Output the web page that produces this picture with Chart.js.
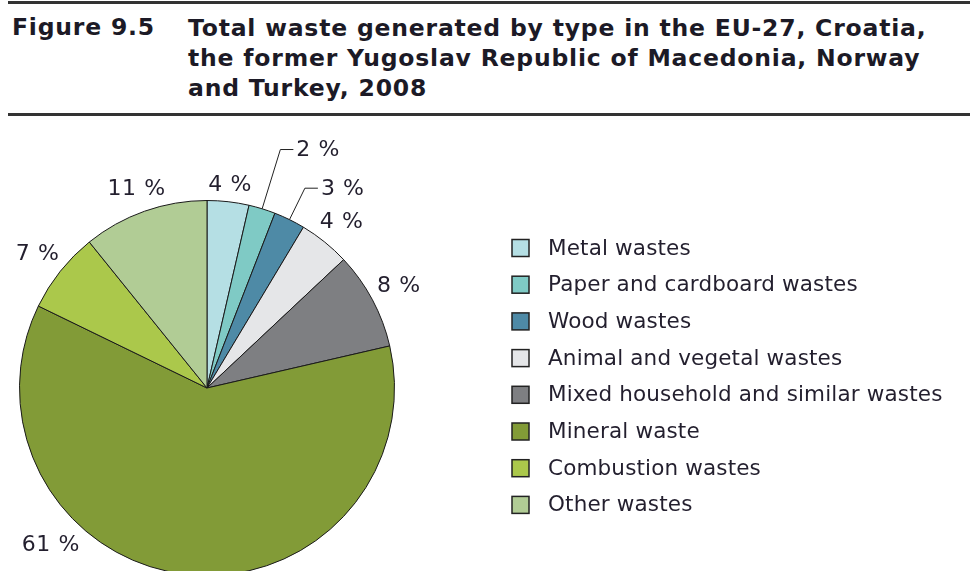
<!DOCTYPE html>
<html>
<head>
<meta charset="utf-8">
<script src="https://cdn.jsdelivr.net/npm/chart.js@4.4.1/dist/chart.umd.min.js"></script>
<style>
  html, body { margin: 0; padding: 0; background: #fff; width: 970px; height: 571px; overflow: hidden; }
  .rule { position: absolute; left: 8px; right: 0; height: 3px; background: #333; }
  .title { position: absolute; left: 0; top: 0; font-family: "DejaVu Sans", Verdana, sans-serif; font-weight: bold; font-size: 23.5px; letter-spacing: 0.8px; color: #1c1a26; }
  .fig { position: absolute; left: 12px; top: 13px; white-space: nowrap; }
  .txt { position: absolute; left: 188px; top: 13px; line-height: 30px; white-space: nowrap; }
  #wrap { position: absolute; left: 0; top: 120px; width: 970px; height: 470px; }
</style>
</head>
<body>
<div class="rule" style="top:1px"></div>
<div class="title">
  <div class="fig">Figure 9.5</div>
  <div class="txt">Total waste generated by type in the EU-27, Croatia,<br>the former Yugoslav Republic of Macedonia, Norway<br>and Turkey, 2008</div>
</div>
<div class="rule" style="top:113px"></div>
<div id="wrap"><canvas id="pie" width="970" height="470"></canvas></div>
<script>
// waste types, share of total (%), 2008
const categories = [
  'Metal wastes',
  'Paper and cardboard wastes',
  'Wood wastes',
  'Animal and vegetal wastes',
  'Mixed household and similar wastes',
  'Mineral waste',
  'Combustion wastes',
  'Other wastes'
]
const shares = [3.6, 2.3, 2.7, 4.4, 8.4, 60.8, 7.0, 10.8]
const sliceColors = ['#b5dfe4', '#7fcac5', '#4e8aa6', '#e5e6e8', '#7e7f82', '#829b37', '#abc84b', '#b1cc95']

const textColor = '#231f2e'
const font = '22px "DejaVu Sans", Verdana, sans-serif'

// percentage labels around the pie, small slices get a leader line
const sliceLabels = {
  id: 'sliceLabels',
  afterDatasetsDraw (chart, args, opts) {
    const ctx = chart.ctx
    ctx.save()
    ctx.font = font
    ctx.letterSpacing = '0.6px'
    ctx.fillStyle = textColor
    ctx.strokeStyle = '#222'
    ctx.lineWidth = 1
    chart.getDatasetMeta(0).data.forEach((arc, i) => {
      const { x, y, startAngle, endAngle, outerRadius } = arc.getProps(['x', 'y', 'startAngle', 'endAngle', 'outerRadius'])
      const text = Math.round(shares[i]) + ' %'
      let mid = (startAngle + endAngle) / 2
      if (opts.angles[i] !== undefined) mid = (opts.angles[i] - 90) * Math.PI / 180
      const cos = Math.cos(mid)
      const sin = Math.sin(mid)
      if (opts.leaders[i] !== undefined) {
        const sx = x + cos * outerRadius
        const sy = y + sin * outerRadius
        const ex = x + cos * (outerRadius + opts.leaders[i])
        const ey = y + sin * (outerRadius + opts.leaders[i])
        ctx.beginPath()
        ctx.moveTo(sx, sy)
        ctx.lineTo(ex, ey)
        ctx.lineTo(ex + 13, ey)
        ctx.stroke()
        ctx.textAlign = 'left'
        ctx.textBaseline = 'middle'
        ctx.fillText(text, ex + 16, ey + 1)
        return
      }
      const w = ctx.measureText(text).width
      const h = 16
      const d = outerRadius + opts.gap + Math.abs(cos) * w / 2 + Math.abs(sin) * h / 2
      ctx.textAlign = 'center'
      ctx.textBaseline = 'middle'
      ctx.fillText(text, x + cos * d, y + sin * d + 1)
    })
    ctx.restore()
  }
}

// legend on the right, one row per category
const sideLegend = {
  id: 'sideLegend',
  afterDraw (chart, args, opts) {
    const ctx = chart.ctx
    ctx.save()
    ctx.font = opts.font
    ctx.letterSpacing = '0.15px'
    ctx.textAlign = 'left'
    ctx.textBaseline = 'middle'
    chart.data.labels.forEach((label, i) => {
      const cy = opts.top + i * opts.step
      ctx.fillStyle = chart.data.datasets[0].backgroundColor[i]
      ctx.fillRect(opts.left, cy - 8.5, 17, 17)
      ctx.strokeStyle = '#222'
      ctx.lineWidth = 1.5
      ctx.strokeRect(opts.left, cy - 8.5, 17, 17)
      ctx.fillStyle = textColor
      ctx.fillText(label, opts.left + 36, cy + 1)
    })
    ctx.restore()
  }
}

new Chart(document.getElementById('pie'), {
  type: 'pie',
  data: {
    labels: categories,
    datasets: [{
      data: shares,
      backgroundColor: sliceColors,
      borderColor: '#1a1a1a',
      borderWidth: 1
    }]
  },
  options: {
    responsive: false,
    animation: false,
    devicePixelRatio: 1,
    layout: {
      padding: { left: 19, right: 575, top: 80, bottom: 14 }
    },
    plugins: {
      legend: { display: false },
      tooltip: { enabled: false },
      sliceLabels: {
        gap: 7,
        leaders: { 1: 62, 2: 35 },
        angles: { 5: 225 }
      },
      sideLegend: {
        left: 512,
        top: 128,
        step: 36.7,
        font: '21.5px "DejaVu Sans", Verdana, sans-serif'
      }
    }
  },
  plugins: [sliceLabels, sideLegend]
})
</script>
</body>
</html>
